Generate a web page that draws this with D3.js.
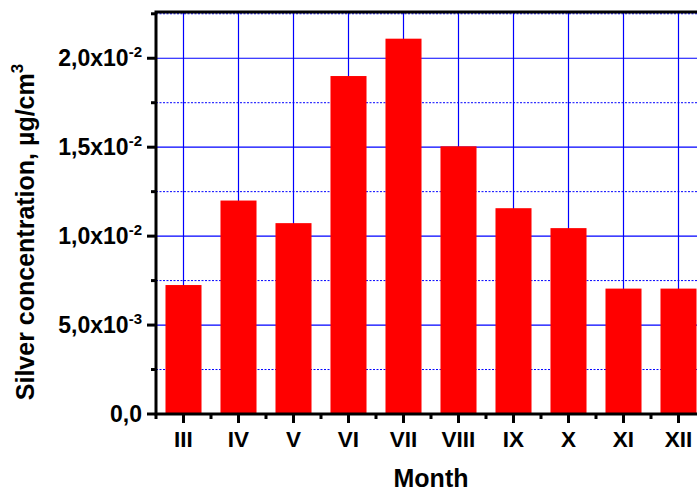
<!DOCTYPE html>
<html>
<head>
<meta charset="utf-8">
<script src="https://cdn.jsdelivr.net/npm/d3@7"></script>
<style>
  html, body { margin: 0; padding: 0; background: #fff; overflow: hidden; }
  svg { display: block; }
  text { font-family: "Liberation Sans", Arial, sans-serif; font-weight: bold; fill: #000; }
</style>
</head>
<body>
<script>
// ---- data ----
const months = ["III", "IV", "V", "VI", "VII", "VIII", "IX", "X", "XI", "XII"];
const values = [0.00725, 0.0120, 0.01073, 0.0190, 0.0211, 0.01505, 0.01157, 0.01045, 0.00705, 0.00705];
const yMajorTicks = [0, 0.005, 0.01, 0.015, 0.02];
const yTickMantissa = ["0,0", "5,0x10", "1,0x10", "1,5x10", "2,0x10"];
const yTickExponent = ["", "-3", "-2", "-2", "-2"];
const yMinorTicks = [0.0025, 0.0075, 0.0125, 0.0175, 0.0225];
const xTitle = "Month";
const yTitle = "Silver concentration, µg/cm";
const yTitleSup = "3";

const W = 697, H = 494;
const pL = 156, pR = 706, pT = 12, pB = 414;

const svg = d3.select("body").append("svg").attr("width", W).attr("height", H);

const x = d3.scaleBand().domain(months).range([pL, pR])
  .paddingInner(0.345).paddingOuter(0.1725);
const y = d3.scaleLinear().domain([0, 0.0226]).range([pB, pT]);

const grid = svg.append("g");
grid.selectAll("line.v").data(months).join("line")
  .attr("x1", d => x(d) + x.bandwidth() / 2).attr("x2", d => x(d) + x.bandwidth() / 2)
  .attr("y1", pT).attr("y2", pB)
  .attr("stroke", "#0000ff").attr("stroke-width", 1.2);
grid.selectAll("line.h").data(yMajorTicks.slice(1)).join("line")
  .attr("x1", pL).attr("x2", pR)
  .attr("y1", d => y(d)).attr("y2", d => y(d))
  .attr("stroke", "#0000ff").attr("stroke-width", 1.2);
grid.selectAll("line.m").data(yMinorTicks).join("line")
  .attr("x1", pL).attr("x2", pR)
  .attr("y1", d => y(d)).attr("y2", d => y(d))
  .attr("stroke", "#0000ff").attr("stroke-width", 1)
  .attr("stroke-dasharray", "2,1.5");

svg.append("g").selectAll("rect").data(values).join("rect")
  .attr("x", (d, i) => x(months[i]))
  .attr("width", x.bandwidth())
  .attr("y", d => y(d))
  .attr("height", d => y(0) - y(d))
  .attr("fill", "#ff0000");

svg.append("rect").attr("x", pL).attr("y", pT)
  .attr("width", pR - pL).attr("height", pB - pT)
  .attr("fill", "none").attr("stroke", "#000").attr("stroke-width", 3);

const yAx = svg.append("g");
yAx.selectAll("line.maj").data(yMajorTicks).join("line")
  .attr("x1", pL - 9).attr("x2", pL)
  .attr("y1", d => y(d)).attr("y2", d => y(d))
  .attr("stroke", "#000").attr("stroke-width", 3);
yAx.selectAll("line.min").data(yMinorTicks).join("line")
  .attr("x1", pL - 5).attr("x2", pL)
  .attr("y1", d => y(d)).attr("y2", d => y(d))
  .attr("stroke", "#000").attr("stroke-width", 3);
const yl = yAx.selectAll("text").data(yMajorTicks).join("text")
  .attr("x", 142).attr("y", d => y(d) + 8)
  .attr("text-anchor", "end")
  .attr("font-size", 23);
yl.append("tspan").text((d, i) => yTickMantissa[i]);
yl.append("tspan").attr("font-size", 15).attr("dy", -9).text((d, i) => yTickExponent[i]);

const xAx = svg.append("g");
xAx.selectAll("line.maj").data(months).join("line")
  .attr("x1", d => x(d) + x.bandwidth() / 2).attr("x2", d => x(d) + x.bandwidth() / 2)
  .attr("y1", pB).attr("y2", pB + 9)
  .attr("stroke", "#000").attr("stroke-width", 3);
const bounds = months.map(d => x(d) - x.step() * x.paddingInner() / 2);
xAx.selectAll("line.min").data(bounds).join("line")
  .attr("x1", d => d).attr("x2", d => d)
  .attr("y1", pB).attr("y2", pB + 5)
  .attr("stroke", "#000").attr("stroke-width", 3);
xAx.selectAll("text").data(months).join("text")
  .attr("x", d => x(d) + x.bandwidth() / 2).attr("y", 447)
  .attr("text-anchor", "middle").attr("font-size", 22.5)
  .text(d => d);

svg.append("text").attr("x", 431).attr("y", 487)
  .attr("text-anchor", "middle").attr("font-size", 25).text(xTitle);
const yt = svg.append("text")
  .attr("transform", "translate(34,232) rotate(-90)")
  .attr("text-anchor", "middle").attr("font-size", 25);
yt.append("tspan").text(yTitle);
yt.append("tspan").attr("font-size", 17).attr("dy", -11).text(yTitleSup);
</script>
</body>
</html>
